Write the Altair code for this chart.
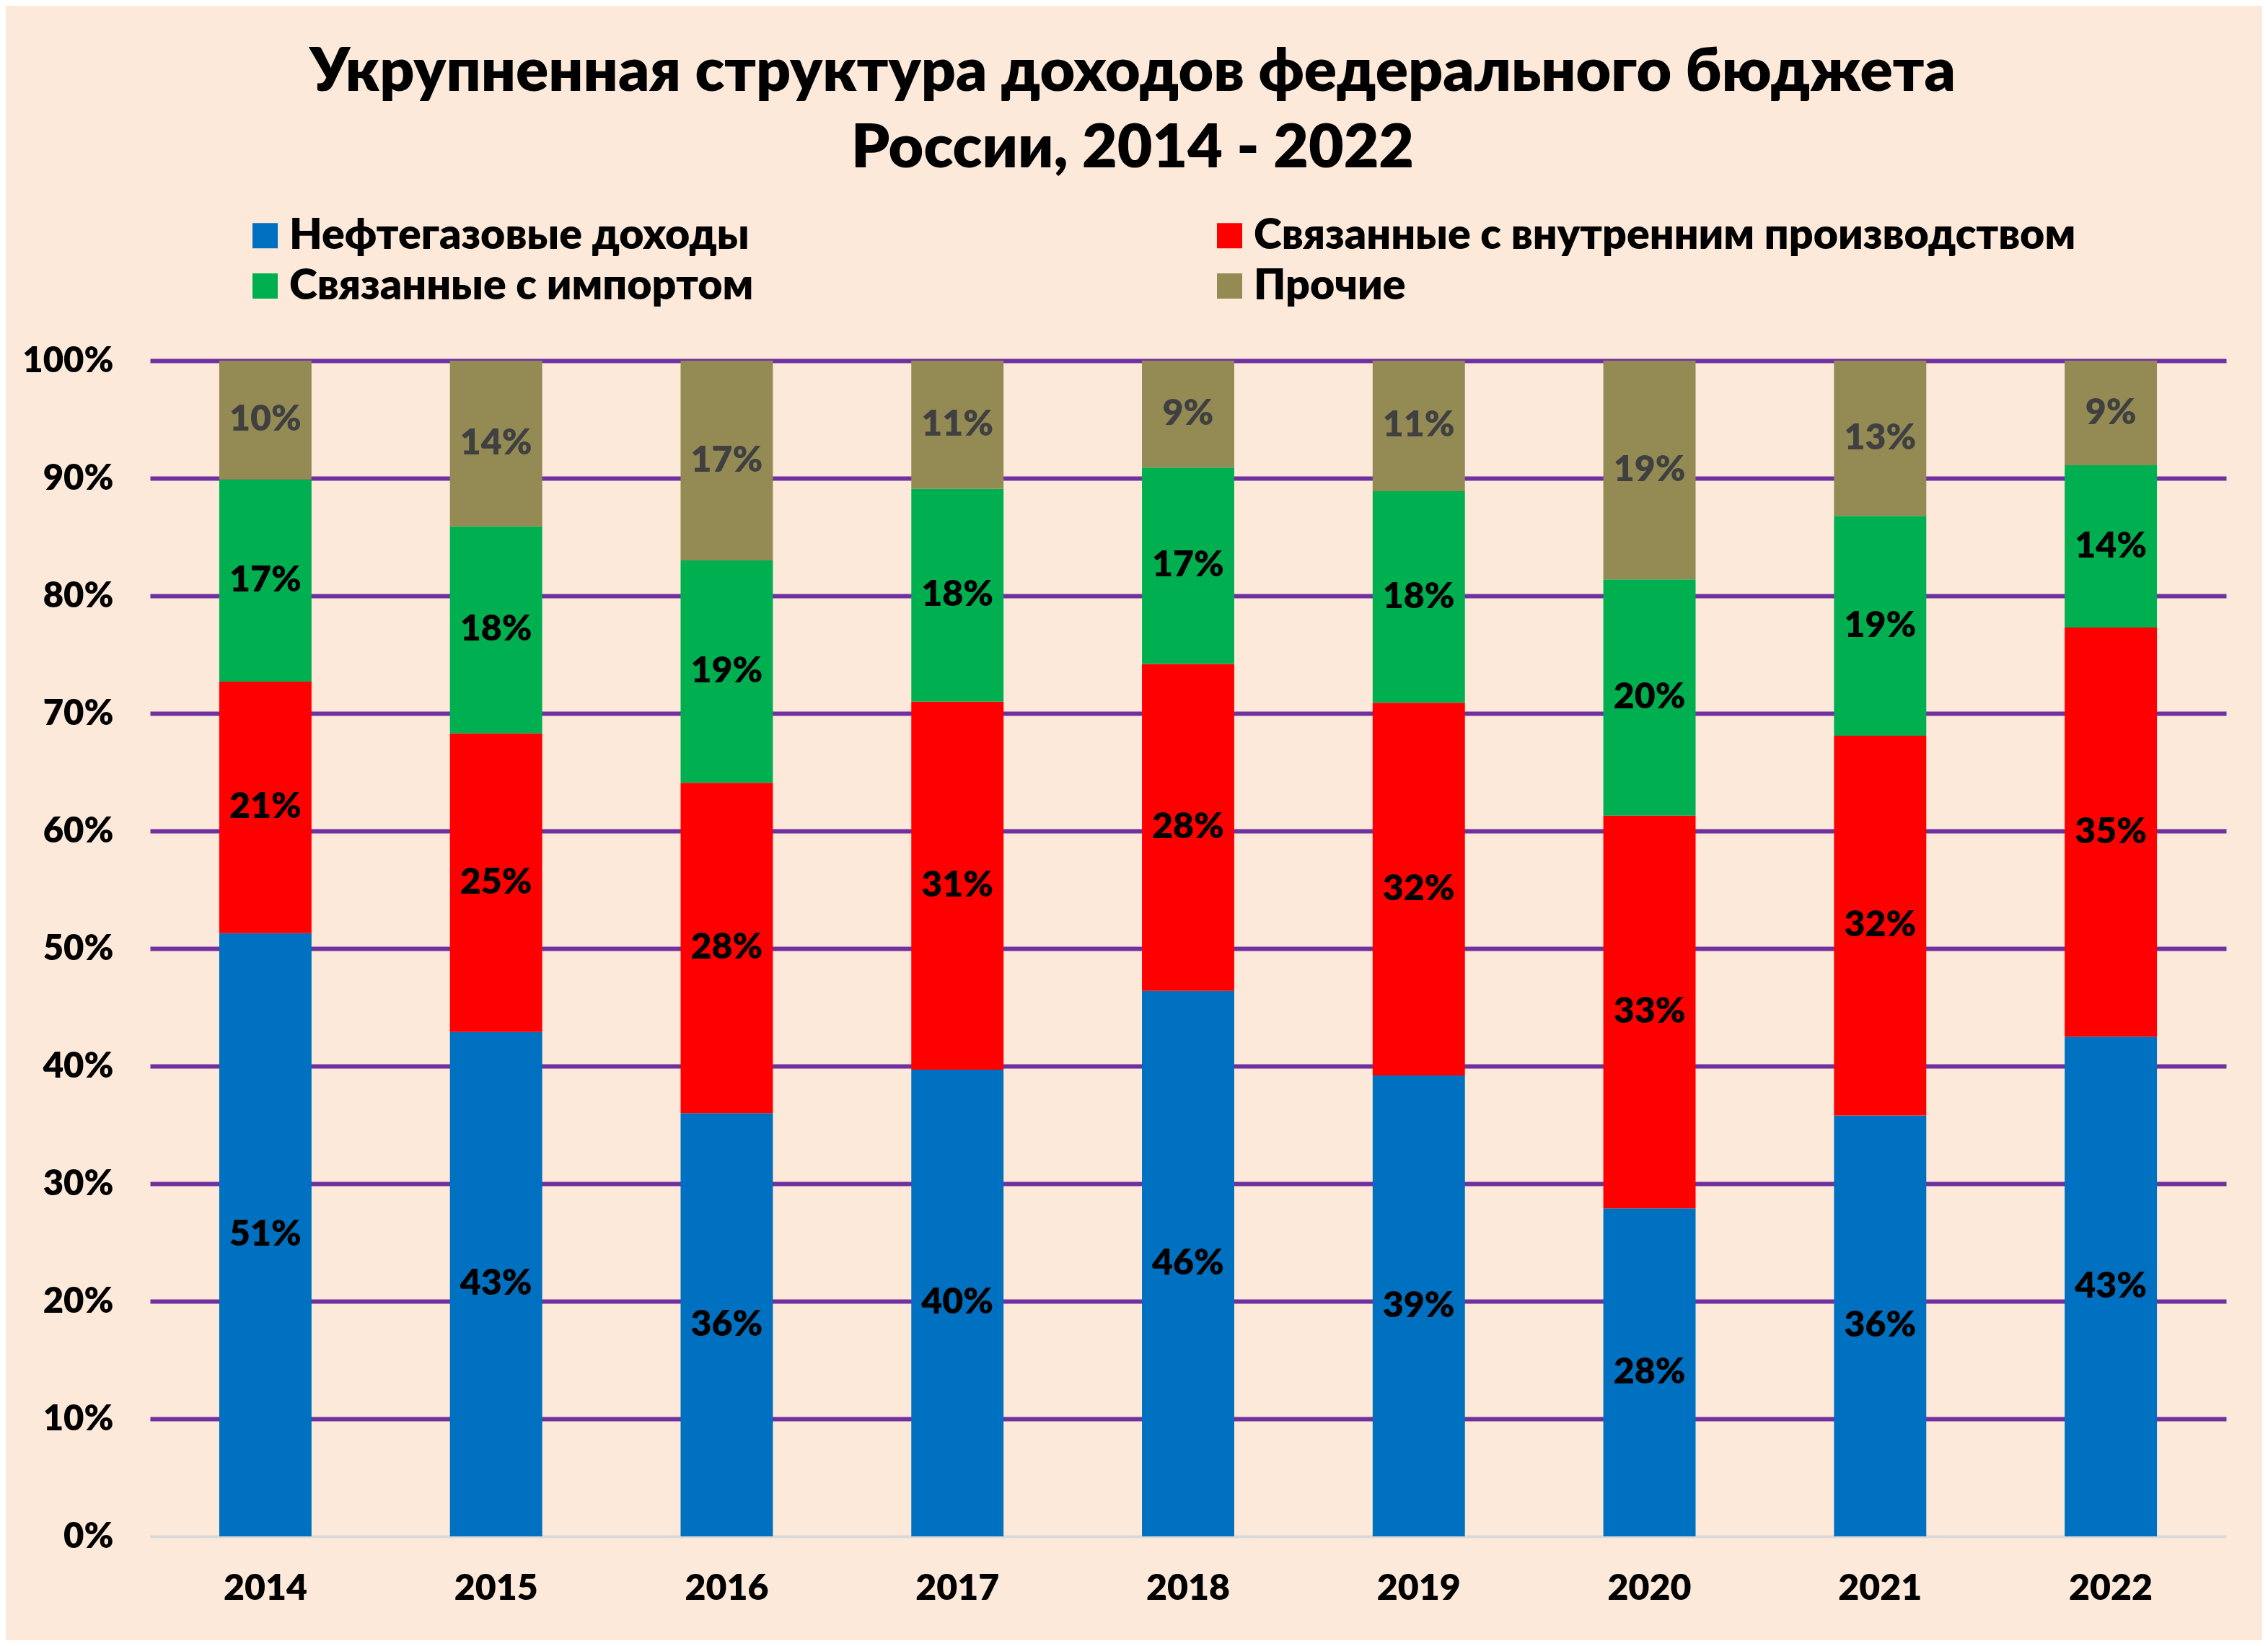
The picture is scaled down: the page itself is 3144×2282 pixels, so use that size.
import altair as alt
import pandas as pd

years = ["2014", "2015", "2016", "2017", "2018", "2019", "2020", "2021", "2022"]
series = [
    "Нефтегазовые доходы",
    "Связанные с внутренним производством",
    "Связанные с импортом",
    "Прочие",
]
oil_gas = [51.3, 42.9, 36.0, 39.7, 46.4, 39.2, 27.9, 35.8, 42.5]
domestic = [21.4, 25.4, 28.1, 31.3, 27.8, 31.7, 33.4, 32.3, 34.8]
imports = [17.2, 17.6, 18.9, 18.1, 16.7, 18.0, 20.1, 18.7, 13.8]
other = [10.1, 14.1, 17.0, 10.9, 9.1, 11.1, 18.6, 13.2, 8.9]
colors = ["#0070C0", "#FF0000", "#00B050", "#948A54"]
y_ticks = [0, 10, 20, 30, 40, 50, 60, 70, 80, 90, 100]

rows = []
for idx, (name, vals) in enumerate(zip(series, [oil_gas, domestic, imports, other])):
    for yr, v in zip(years, vals):
        rows.append({"year": yr, "series": name, "idx": idx, "value": v})
df = pd.DataFrame(rows)

FONT = "Lato"
WEIGHT = 800

base = alt.Chart(df).transform_stack(
    stack="value", as_=["y0", "y1"], groupby=["year"], sort=[{"field": "idx", "order": "ascending"}]
).transform_calculate(
    mid="(datum.y0 + datum.y1) / 2",
    label="round(datum.value) + '%'",
)

x_enc = alt.X(
    "year:N",
    sort=years,
    scale=alt.Scale(paddingInner=0.6, paddingOuter=0.3),
    axis=alt.Axis(
        title=None,
        labelAngle=0,
        ticks=False,
        domain=False,
        labelFont=FONT,
        labelFontSize=50,
        labelFontWeight=WEIGHT,
        labelColor="#000000",
        labelPadding=87,
        labelBaseline="alphabetic",
    ),
)

y_scale = alt.Scale(domain=[0, 100], nice=False)

bars = base.mark_bar().encode(
    x=x_enc,
    y=alt.Y(
        "y0:Q",
        scale=y_scale,
        axis=alt.Axis(
            title=None,
            values=y_ticks,
            labelExpr="datum.value + '%'",
            ticks=False,
            domain=False,
            labelFont=FONT,
            labelFontSize=49,
            labelFontWeight=WEIGHT,
            labelColor="#000000",
            labelPadding=51,
            grid=True,
            gridColor={"condition": {"test": "datum.value === 0", "value": "#D9D9D9"}, "value": "#7030A0"},
            gridWidth={"condition": {"test": "datum.value === 0", "value": 4}, "value": 6},
            gridOpacity=1,
        ),
    ),
    y2="y1:Q",
    color=alt.Color(
        "series:N",
        scale=alt.Scale(domain=series, range=colors),
        sort=series,
        legend=alt.Legend(
            title=None,
            orient="none",
            direction="horizontal",
            legendX=130,
            legendY=-203,
            columns=2,
            columnPadding=630,
            rowPadding=10,
            symbolType="square",
            symbolSize=1225,
            symbolStrokeWidth=0,
            labelFont=FONT,
            labelFontSize=59,
            labelFontWeight=WEIGHT,
            labelColor="#000000",
            labelLimit=3000,
            labelOffset=4,
            padding=0,
        ),
    ),
    order=alt.Order("idx:Q", sort="ascending"),
)

labels = base.mark_text(
    font=FONT, fontSize=50, fontWeight=WEIGHT, baseline="middle", align="center"
).encode(
    x=alt.X("year:N", sort=years),
    y=alt.Y("mid:Q", scale=y_scale),
    text="label:N",
    color=alt.condition(alt.datum.series == "Прочие", alt.value("#404040"), alt.value("#000000")),
)

chart = alt.layer(bars, labels).properties(
    width=2878,
    height=1630,
    title=alt.TitleParams(
        text=["Укрупненная структура доходов федерального бюджета", "России, 2014 - 2022"],
        font=FONT,
        fontSize=84,
        fontWeight=WEIGHT,
        color="#000000",
        anchor="middle",
        dx=-77,
        lineHeight=106,
        offset=47,
    ),
    autosize=alt.AutoSizeParams(type="none"),
    padding={"left": 200, "top": 492, "right": 50, "bottom": 144},
    background="#FDE9D9",
).configure_view(stroke=None)

chart.save("out.html", embed_options={"renderer": "svg", "actions": False})
